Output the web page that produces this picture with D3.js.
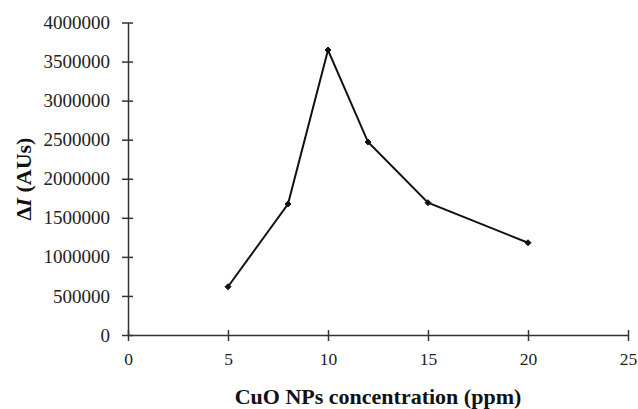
<!DOCTYPE html>
<html>
<head>
<meta charset="utf-8">
<script src="https://cdn.jsdelivr.net/npm/d3@7"></script>
<style>
  body { margin: 0; background: #fff; }
  svg { display: block; font-family: "Liberation Serif", "Times New Roman", serif; }
  .axis path, .axis line { stroke: #333; stroke-width: 1.5px; }
  .axis text { fill: #222; }
</style>
</head>
<body>
<div id="chart"></div>
<script>
// data
var concentration = [5, 8, 10, 12, 15, 20];
var deltaI = [618000, 1677000, 3648000, 2470000, 1693000, 1181000];
var xTicks = [0, 5, 10, 15, 20, 25];
var yTicks = [0, 500000, 1000000, 1500000, 2000000, 2500000, 3000000, 3500000, 4000000];

var width = 638, height = 409;
var margin = { left: 128, right: 10, top: 22.5, bottom: 74 };
var serif = '"Liberation Serif", "Times New Roman", serif';

var svg = d3.select("#chart").append("svg")
    .attr("width", width)
    .attr("height", height);

var x = d3.scaleLinear()
    .domain([0, 25])
    .range([margin.left, margin.left + 500]);
var y = d3.scaleLinear()
    .domain([0, 4000000])
    .range([height - margin.bottom, margin.top]);

// axes, ticks cross the axis line like in the excel original
var xAxis = d3.axisBottom(x).tickValues(xTicks).tickSize(6).tickSizeOuter(0).tickPadding(12);
var yAxis = d3.axisLeft(y).tickValues(yTicks).tickSize(6).tickSizeOuter(0).tickPadding(12)
    .tickFormat(d3.format("d"));

var gx = svg.append("g")
    .attr("class", "axis")
    .attr("transform", "translate(0," + y(0) + ")")
    .call(xAxis)
    .attr("font-family", serif)
    .attr("font-size", 17.5);
gx.selectAll(".tick line").attr("y1", -5);

var gy = svg.append("g")
    .attr("class", "axis")
    .attr("transform", "translate(" + x(0) + ",0)")
    .call(yAxis)
    .attr("font-family", serif)
    .attr("font-size", 19);
gy.selectAll(".tick line").attr("x1", 5);

// the line
var points = concentration.map(function(c, i) { return [c, deltaI[i]]; });
var valueLine = d3.line()
    .x(function(d) { return x(d[0]); })
    .y(function(d) { return y(d[1]); });
svg.append("path")
    .datum(points)
    .attr("fill", "none")
    .attr("stroke", "#111")
    .attr("stroke-width", 2)
    .attr("d", valueLine);

// diamond markers
svg.selectAll(".marker")
    .data(points)
    .enter().append("path")
    .attr("class", "marker")
    .attr("transform", function(d) { return "translate(" + x(d[0]) + "," + y(d[1]) + ")"; })
    .attr("d", "M0,-3L3,0L0,3L-3,0Z")
    .attr("fill", "#111")
    .attr("stroke", "#111")
    .attr("stroke-width", 1);

// axis titles
svg.append("text")
    .attr("x", 378)
    .attr("y", 404)
    .attr("text-anchor", "middle")
    .style("font-size", "22px")
    .style("font-weight", "bold")
    .attr("fill", "#111")
    .text("CuO NPs concentration (ppm)");

var yTitle = svg.append("text")
    .attr("transform", "translate(31,179) rotate(-90)")
    .attr("text-anchor", "middle")
    .style("font-size", "22px")
    .style("font-weight", "bold")
    .attr("fill", "#111");
yTitle.append("tspan").text("\u0394");
yTitle.append("tspan").style("font-style", "italic").text("I");
yTitle.append("tspan").text(" (AUs)");
</script>
</body>
</html>
